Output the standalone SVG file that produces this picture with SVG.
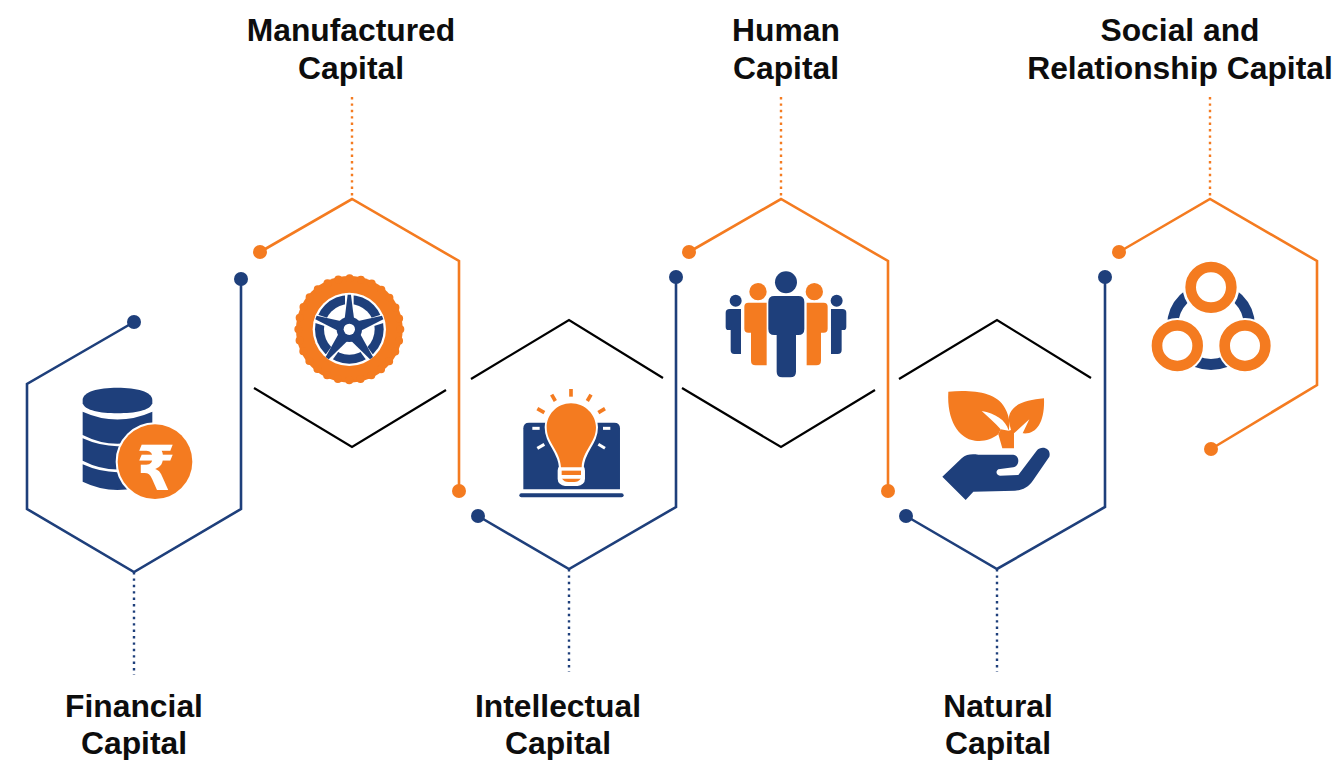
<svg xmlns="http://www.w3.org/2000/svg" width="1338" height="760" viewBox="0 0 1338 760">
<style>
.lbl{font-family:"Liberation Sans",Arial,sans-serif;font-weight:700;font-size:31.8px;fill:#0d0d0d;text-anchor:middle}
.o{fill:none;stroke:#F47B20;stroke-width:2.6;stroke-linejoin:miter}
.n{fill:none;stroke:#1E3F7B;stroke-width:2.6;stroke-linejoin:miter}
.k{fill:none;stroke:#000;stroke-width:2.2}
.od{fill:none;stroke:#F47B20;stroke-width:2.4;stroke-dasharray:2.4 4}
.nd{fill:none;stroke:#1E3F7B;stroke-width:2.4;stroke-dasharray:2.4 4}
.fo{fill:#F47B20}.dof{fill:#F47B20}.fn{fill:#1E3F7B}.dnf{fill:#1E3F7B}
</style>
<rect width="1338" height="760" fill="#fff"/>
<g id="connectors">
<polyline class="n" points="134,322 27,384 27,509 134,572 241,509 241,279"/>
<polyline class="o" points="260,252 352,199 459,261 459,491"/>
<polyline class="n" points="478,516 569,569 676,507 676,277"/>
<polyline class="o" points="689,252 781,199 888,261 888,491"/>
<polyline class="n" points="906,516 997,569 1105,507 1105,277"/>
<polyline class="o" points="1119,252 1210,199 1317,261 1317,385 1211,449"/>
<polyline class="k" points="254,388 352,447 446,390"/>
<polyline class="k" points="471,379 569,320 663,378"/>
<polyline class="k" points="682,388 781,447 875,390"/>
<polyline class="k" points="899,379 997,320 1091,378"/>
<line class="od" x1="352" y1="97" x2="352" y2="199"/>
<line class="od" x1="781" y1="97" x2="781" y2="199"/>
<line class="od" x1="1210" y1="97" x2="1210" y2="199"/>
<line class="nd" x1="134" y1="572" x2="134" y2="675"/>
<line class="nd" x1="569" y1="569" x2="569" y2="672"/>
<line class="nd" x1="997" y1="569" x2="997" y2="672"/>
<g class="dnf"><circle cx="134" cy="322" r="7"/><circle cx="241" cy="279" r="7"/><circle cx="478" cy="516" r="7"/><circle cx="676" cy="277" r="7"/><circle cx="906" cy="516" r="7"/><circle cx="1105" cy="277" r="7"/></g>
<g class="dof"><circle cx="260" cy="252" r="7"/><circle cx="459" cy="491" r="7"/><circle cx="689" cy="252" r="7"/><circle cx="888" cy="491" r="7"/><circle cx="1119" cy="252" r="7"/><circle cx="1211" cy="449" r="7"/></g>
</g>
<g id="financial">
<g transform="translate(60 370) scale(.3333)">
<path class="fn" d="M68,90 C68,65 115,53 172,53 C230,53 277,65 277,90 V100 C270,122 225,130 172,130 C120,130 75,122 68,100 Z"/>
<path class="fn" d="M68,125 Q172,172 277,125 V195 Q172,248 68,195 Z"/>
<path class="fn" d="M68,205 Q172,252 277,205 V272 Q172,325 68,272 Z"/>
<path class="fn" d="M68,283 Q172,330 277,283 V335 Q172,385 68,335 Z"/>
<circle cx="285" cy="275" r="112" fill="#F47B20" stroke="#fff" stroke-width="12" paint-order="stroke"/>
</g>
<text transform="translate(156 490) scale(.9 1)" text-anchor="middle" font-family="'Liberation Sans','DejaVu Sans',sans-serif" font-weight="700" font-size="62" fill="#fff">₹</text>
<text class="lbl" x="134" y="717">Financial</text><text class="lbl" x="134" y="754">Capital</text>
</g>
<g id="manufactured">
<g transform="translate(280 260) scale(.3333)">
<circle cx="208" cy="208" r="160" class="fo"/>
<circle cx="208" cy="208" r="153" fill="none" stroke="#F47B20" stroke-width="24" stroke-linecap="round" pathLength="28" stroke-dasharray="0 1"/>
<circle cx="208" cy="208" r="110" fill="#fff"/>
<circle cx="208" cy="208" r="103" class="fn"/>
<circle cx="208" cy="208" r="76" fill="#fff"/>
<g id="spokes-m">
<g stroke="#fff" stroke-width="26"><line x1="208" y1="208" x2="208" y2="100"/><line x1="208" y1="208" x2="311" y2="175"/><line x1="208" y1="208" x2="271" y2="295"/><line x1="208" y1="208" x2="145" y2="295"/><line x1="208" y1="208" x2="105" y2="175"/></g>
<polygon class="fn" points="190,208 203,104 213,104 226,208"/>
<polygon class="fn" points="204,190 306,167 310,178 216,226"/>
<polygon class="fn" points="226,196 279,291 270,298 190,220"/>
<polygon class="fn" points="190,196 137,291 146,298 226,220"/>
<polygon class="fn" points="212,190 110,167 106,178 200,226"/>
</g>
<circle cx="208" cy="208" r="38" class="fn"/>
<circle cx="208" cy="208" r="17" fill="#fff"/>
</g>
<text class="lbl" x="351" y="41">Manufactured</text><text class="lbl" x="351" y="79">Capital</text>
</g>
<g id="intellectual">
<g transform="translate(505 380) scale(.3333)">
<path class="fn" d="M55,328 V145 Q55,128 72,128 H328 Q345,128 345,145 V328 Z"/>
<rect class="fn" x="43" y="340" width="313" height="12" rx="6"/>
<g stroke="#fff" stroke-width="9"><line x1="82" y1="145" x2="104" y2="145"/><line x1="294" y1="145" x2="316" y2="145"/><line x1="97" y1="205" x2="118" y2="193"/><line x1="300" y1="205" x2="280" y2="193"/></g>
<g stroke="#F47B20" stroke-width="11"><line x1="198" y1="27" x2="198" y2="50"/><line x1="140" y1="44" x2="151" y2="63"/><line x1="97" y1="86" x2="118" y2="98"/><line x1="258" y1="44" x2="247" y2="63"/><line x1="300" y1="86" x2="280" y2="98"/></g>
<rect x="158" y="250" width="82" height="68" rx="22" fill="#fff"/>
<path class="fo" stroke="#fff" stroke-width="12" paint-order="stroke" d="M198,70 C155,70 125,105 125,142 C125,190 165,210 168,262 H230 C233,210 273,190 273,142 C273,105 241,70 198,70 Z"/>
<rect class="fo" x="170" y="272" width="58" height="13"/>
<path class="fo" d="M171,296 H227 C223,302 216,306 208,306 H190 C182,306 175,302 171,296 Z"/>
</g>
<text class="lbl" x="558" y="717">Intellectual</text><text class="lbl" x="558" y="754">Capital</text>
</g>
<g id="human">
<g transform="translate(715 260) scale(.3333)">
<circle class="fn" cx="62" cy="122" r="18"/><circle class="fn" cx="365" cy="122" r="18"/>
<path class="fn" d="M44,147 H78 V282 H58 Q47,282 47,270 V210 H40 Q32,210 32,200 V158 Q32,147 44,147 Z"/>
<path class="fn" d="M382,147 H348 V282 H368 Q380,282 380,270 V210 H386 Q394,210 394,200 V158 Q394,147 382,147 Z"/>
<circle class="fo" cx="129" cy="95" r="26"/><circle class="fo" cx="298" cy="95" r="26"/>
<path class="fo" d="M100,128 H155 V316 H122 Q108,316 108,302 V218 H100 Q88,218 88,206 V140 Q88,128 100,128 Z"/>
<path class="fo" d="M326,128 H275 V316 H304 Q318,316 318,302 V218 H326 Q338,218 338,206 V140 Q338,128 326,128 Z"/>
<circle class="fn" cx="213" cy="67" r="33"/>
<path class="fn" stroke="#fff" stroke-width="6" paint-order="stroke" d="M178,108 H250 Q268,108 268,126 V207 Q268,225 250,225 H243 V335 Q243,352 226,352 H202 Q185,352 185,335 V225 H178 Q160,225 160,207 V126 Q160,108 178,108 Z"/>
</g>
<text class="lbl" x="786" y="41">Human</text><text class="lbl" x="786" y="79">Capital</text>
</g>
<g id="natural">
<g transform="translate(930 380) scale(.3333)">
<path class="fo" d="M55,35 C120,30 200,33 225,85 C240,112 240,135 236,152 C228,120 195,100 155,93 C175,112 195,128 212,148 L205,163 C185,178 160,186 135,182 C85,175 50,120 55,35 Z"/>
<path class="fo" d="M342,55 C295,60 255,68 240,100 C232,118 240,135 243,150 L236,152 L212,148 L205,163 L217,205 H252 V160 L298,118 L278,160 C320,165 345,125 342,55 Z"/>
<path class="fn" d="M37,290 L95,235 C110,222 125,222 145,224 H250 C270,226 270,258 250,262 L205,268 C195,275 200,285 210,287 L265,285 L320,212 C335,195 365,205 358,230 L310,300 C295,322 280,330 255,332 L130,335 L107,360 Z"/>
</g>
<text class="lbl" x="998" y="717">Natural</text><text class="lbl" x="998" y="754">Capital</text>
</g>
<g id="social">
<g transform="translate(1140 250) scale(.3333)">
<circle cx="213" cy="228" r="115.5" fill="none" stroke="#1E3F7B" stroke-width="33"/>
<g fill="#fff"><circle cx="213" cy="112" r="85"/><circle cx="112" cy="287" r="83"/><circle cx="315" cy="287" r="83"/></g>
<g fill="none" stroke="#F47B20" stroke-width="32"><circle cx="213" cy="112" r="61"/><circle cx="112" cy="287" r="61"/><circle cx="315" cy="287" r="61"/></g>
</g>
<text class="lbl" x="1180" y="41">Social and</text><text class="lbl" x="1180" y="79">Relationship Capital</text>
</g>
</svg>
